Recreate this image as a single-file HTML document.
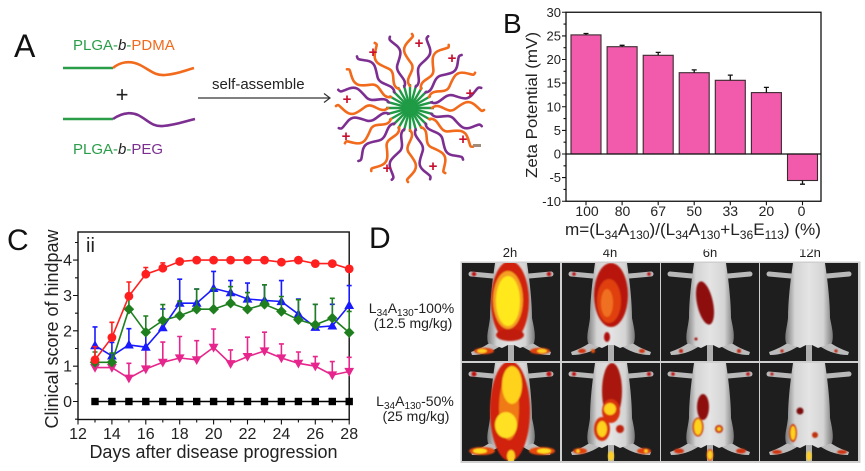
<!DOCTYPE html>
<html>
<head>
<meta charset="utf-8">
<style>
html,body{margin:0;padding:0;background:#fff;}
body{width:865px;height:471px;overflow:hidden;}
svg{display:block;font-family:"Liberation Sans",Arial,sans-serif;}
</style>
</head>
<body>
<svg width="865" height="471" viewBox="0 0 865 471" xmlns="http://www.w3.org/2000/svg">
<defs>
  <path id="chA" d="M22,0 C30,-7 37,7 45,1 S58,-9 65,-3 S71,4 74,2" fill="none"/>
  <path id="chB" d="M22,0 C29,6 37,-6 45,-1 S57,8 64,3 S71,-3 74,-1" fill="none"/>
  <g id="c1"><path d="M0,0H24" stroke="#1f9a45" stroke-width="2.4"/><use href="#chA" stroke="#f26a1b" stroke-width="2.6" stroke-linecap="round"/></g>
  <g id="c2"><path d="M0,0H24" stroke="#1f9a45" stroke-width="2.4"/><use href="#chB" stroke="#7d2f91" stroke-width="2.6" stroke-linecap="round"/></g>
  <path id="tu" d="M0,-5.2 L4.9,3.6 L-4.9,3.6Z"/>
  <path id="td" d="M0,5.2 L4.9,-3.6 L-4.9,-3.6Z"/>
  <path id="dm" d="M0,-5.3 L5.3,0 L0,5.3 L-5.3,0Z"/>
  <rect id="sq" x="-3.7" y="-3.7" width="7.4" height="7.4"/>
  <linearGradient id="mg" x1="0" y1="0" x2="1" y2="0">
    <stop offset="0" stop-color="#7a7a7a"/>
    <stop offset="0.2" stop-color="#d4d4d4"/>
    <stop offset="0.5" stop-color="#e4e4e4"/>
    <stop offset="0.8" stop-color="#d4d4d4"/>
    <stop offset="1" stop-color="#7a7a7a"/>
  </linearGradient>
  <filter id="bl" x="-20%" y="-20%" width="140%" height="140%"><feGaussianBlur stdDeviation="0.8"/></filter>
  <g id="mouse">
    <rect x="0" y="0" width="98" height="98" fill="#1e1e1e"/>
    <path d="M31,13 L9,11" stroke="#b9b9b9" stroke-width="5" stroke-linecap="round"/>
    <path d="M67,13 L89,11" stroke="#b9b9b9" stroke-width="5" stroke-linecap="round"/>
    <path d="M30,78 C24,83 17,86 9,89 L10,92 C20,92 29,89 37,84 Z" fill="#bcbcbc"/>
    <path d="M68,78 C74,83 81,86 89,89 L88,92 C78,92 69,89 61,84 Z" fill="#bcbcbc"/>
    <rect x="46" y="78" width="6" height="20" fill="#b0b0b0"/>
    <path d="M33,0 L65,0 C68,20 70,40 70,55 C72,65 74,72 72,80 L58,85 L52,82 L46,82 L40,85 L26,80 C24,72 27,65 28,55 C28,40 30,20 33,0 Z" fill="url(#mg)"/>
  </g>
</defs>

<!-- ============ PANEL A ============ -->
<text x="14" y="57" font-size="32" fill="#111">A</text>
<text x="73" y="50" font-size="15"><tspan fill="#2a9d48">PLGA-</tspan><tspan fill="#222" font-style="italic">b</tspan><tspan fill="#2a9d48">-</tspan><tspan fill="#f26a1b">PDMA</tspan></text>
<path d="M63,68 H113" stroke="#2a9d48" stroke-width="2.6" fill="none"/>
<path d="M113,68 C120,62 130,60 140,65 C150,70 155,76 165,75 C178,74 186,70 194,68" stroke="#f26a1b" stroke-width="2.6" fill="none"/>
<text x="122" y="102" font-size="22" fill="#222" text-anchor="middle">+</text>
<path d="M63,119 H113" stroke="#2a9d48" stroke-width="2.6" fill="none"/>
<path d="M113,119 C120,114 128,111 138,115 C148,120 152,127 163,126 C176,125 186,121 195,119" stroke="#7d2f91" stroke-width="2.6" fill="none"/>
<text x="73" y="154" font-size="15"><tspan fill="#2a9d48">PLGA-</tspan><tspan fill="#222" font-style="italic">b</tspan><tspan fill="#2a9d48">-</tspan><tspan fill="#7d2f91">PEG</tspan></text>
<text x="212" y="89" font-size="15" fill="#222">self-assemble</text>
<path d="M198,98 H330 M324,93.5 L330,98 L324,102.5" stroke="#333" stroke-width="1.2" fill="none"/>

<!-- micelle -->
<g transform="translate(410,108)">
  <use href="#c1" transform="rotate(0)"/>
  <use href="#c2" transform="rotate(15)"/>
  <use href="#c1" transform="rotate(30)"/>
  <use href="#c2" transform="rotate(45)"/>
  <use href="#c1" transform="rotate(60)"/>
  <use href="#c2" transform="rotate(75)"/>
  <use href="#c1" transform="rotate(90)"/>
  <use href="#c2" transform="rotate(105)"/>
  <use href="#c1" transform="rotate(120)"/>
  <use href="#c2" transform="rotate(135)"/>
  <use href="#c1" transform="rotate(150)"/>
  <use href="#c2" transform="rotate(165)"/>
  <use href="#c1" transform="rotate(180)"/>
  <use href="#c2" transform="rotate(195)"/>
  <use href="#c1" transform="rotate(210)"/>
  <use href="#c2" transform="rotate(225)"/>
  <use href="#c1" transform="rotate(240)"/>
  <use href="#c2" transform="rotate(255)"/>
  <use href="#c1" transform="rotate(270)"/>
  <use href="#c2" transform="rotate(285)"/>
  <use href="#c1" transform="rotate(300)"/>
  <use href="#c2" transform="rotate(315)"/>
  <use href="#c1" transform="rotate(330)"/>
  <use href="#c2" transform="rotate(345)"/>
  <circle cx="0" cy="0" r="7" fill="#1f9a45"/>
</g>
<g font-size="15" font-weight="bold" fill="#c8102e" text-anchor="middle">
  <text x="373" y="57">+</text>
  <text x="419" y="48">+</text>
  <text x="452" y="63">+</text>
  <text x="470" y="98">+</text>
  <text x="463" y="144">+</text>
  <text x="433" y="171">+</text>
  <text x="387" y="173">+</text>
  <text x="346" y="141">+</text>
  <text x="347" y="104">+</text>
</g>
<rect x="473" y="144" width="8" height="3" fill="#a08c78"/>

<!-- ============ PANEL B ============ -->
<text x="503" y="33" font-size="28" fill="#111">B</text>
<text x="537" y="178" font-size="16" fill="#222" transform="rotate(-90 537 178)" textLength="146" lengthAdjust="spacingAndGlyphs">Zeta Potential (mV)</text>
<!-- bars -->
<g fill="#f25aac" stroke="#3a2a30" stroke-width="1.1">
  <rect x="571" y="34.9" width="30" height="119.1"/>
  <rect x="607.1" y="46.7" width="30" height="107.3"/>
  <rect x="643.2" y="55.3" width="30" height="98.7"/>
  <rect x="679.2" y="72.7" width="30" height="81.3"/>
  <rect x="715.3" y="80.3" width="30" height="73.7"/>
  <rect x="751.4" y="92.6" width="30" height="61.4"/>
  <rect x="787.5" y="154" width="30" height="26.5"/>
</g>
<g stroke="#111" stroke-width="1.3" fill="none">
  <path d="M586,34.9V33.5M583.5,33.5H588.5"/>
  <path d="M622.1,46.7V45.3M619.6,45.3H624.6"/>
  <path d="M658.2,55.3V52.4M655.7,52.4H660.7"/>
  <path d="M694.2,72.7V69.9M691.7,69.9H696.7"/>
  <path d="M730.3,80.3V75.1M727.8,75.1H732.8"/>
  <path d="M766.4,92.6V87.4M763.9,87.4H768.9"/>
  <path d="M802.5,180.5V184.2M800,184.2H805"/>
</g>
<!-- frame -->
<rect x="566" y="12.25" width="255" height="189" fill="none" stroke="#111" stroke-width="1.3"/>
<path d="M566,154H821" stroke="#111" stroke-width="1.2"/>
<g stroke="#111" stroke-width="1.1">
  <path d="M566,12.25h-4M566,35.9h-4M566,59.5h-4M566,83.1h-4M566,106.75h-4M566,130.4h-4M566,154h-4M566,177.6h-4M566,201.25h-4"/>
  <path d="M566,24.1h-2.5M566,47.7h-2.5M566,71.3h-2.5M566,94.9h-2.5M566,118.6h-2.5M566,142.2h-2.5M566,165.8h-2.5M566,189.4h-2.5"/>
  <path d="M586,201.25v4M622.1,201.25v4M658.2,201.25v4M694.2,201.25v4M730.3,201.25v4M766.4,201.25v4M802.5,201.25v4"/>
</g>
<g font-size="13" fill="#222" text-anchor="end">
  <text x="561" y="16.8">30</text>
  <text x="561" y="40.4">25</text>
  <text x="561" y="64">20</text>
  <text x="561" y="87.6">15</text>
  <text x="561" y="111.3">10</text>
  <text x="561" y="134.9">5</text>
  <text x="561" y="158.5">0</text>
  <text x="561" y="182.1">-5</text>
  <text x="561" y="205.8">-10</text>
</g>
<g font-size="14" fill="#222" text-anchor="middle">
  <text x="587" y="216">100</text>
  <text x="622.5" y="216">80</text>
  <text x="658.2" y="216">67</text>
  <text x="694.2" y="216">50</text>
  <text x="730.3" y="216">33</text>
  <text x="766.4" y="216">20</text>
  <text x="801.5" y="216">0</text>
</g>
<text x="565" y="235" font-size="17" fill="#222" textLength="256" lengthAdjust="spacingAndGlyphs">m=(L<tspan font-size="12" dy="4">34</tspan><tspan dy="-4">A</tspan><tspan font-size="12" dy="4">130</tspan><tspan dy="-4">)/(L</tspan><tspan font-size="12" dy="4">34</tspan><tspan dy="-4">A</tspan><tspan font-size="12" dy="4">130</tspan><tspan dy="-4">+L</tspan><tspan font-size="12" dy="4">36</tspan><tspan dy="-4">E</tspan><tspan font-size="12" dy="4">113</tspan><tspan dy="-4">) (%)</tspan></text>

<!-- ============ PANEL C ============ -->
<text x="7" y="250" font-size="30" fill="#111">C</text>
<text x="58" y="329" font-size="18" fill="#222" text-anchor="middle" transform="rotate(-90 58 329)">Clinical score of hindpaw</text>
<text x="86" y="252" font-size="20" fill="#222">ii</text>
<rect x="78" y="232" width="271.2" height="187.5" fill="none" stroke="#111" stroke-width="1.4"/>
<g stroke="#111" stroke-width="1.1">
  <path d="M78,401.5h-5M78,366.2h-5M78,330.8h-5M78,295.5h-5M78,260.1h-5"/>
  <path d="M78,419.2h-3M78,383.8h-3M78,348.5h-3M78,313.2h-3M78,277.8h-3M78,242.5h-3"/>
  <path d="M78,419.5v5M111.9,419.5v5M145.8,419.5v5M179.7,419.5v5M213.6,419.5v5M247.5,419.5v5M281.4,419.5v5M315.3,419.5v5M349.2,419.5v5"/>
  <path d="M95,419.5v3M128.9,419.5v3M162.8,419.5v3M196.7,419.5v3M230.6,419.5v3M264.5,419.5v3M298.4,419.5v3M332.3,419.5v3"/>
</g>
<g font-size="16" fill="#222" text-anchor="end">
  <text x="72" y="407">0</text>
  <text x="72" y="371.7">1</text>
  <text x="72" y="336.3">2</text>
  <text x="72" y="301">3</text>
  <text x="72" y="265.6">4</text>
</g>
<g font-size="16" fill="#222" text-anchor="middle">
  <text x="78" y="439">12</text>
  <text x="111.9" y="439">14</text>
  <text x="145.8" y="439">16</text>
  <text x="179.7" y="439">18</text>
  <text x="213.6" y="439">20</text>
  <text x="247.5" y="439">22</text>
  <text x="281.4" y="439">24</text>
  <text x="315.3" y="439">26</text>
  <text x="349.2" y="439">28</text>
</g>
<text x="213.5" y="458" font-size="18" fill="#222" text-anchor="middle">Days after disease progression</text>

<!-- magenta -->
<g stroke="#e6268c" stroke-width="1.6" fill="none">
  <polyline points="95,367.6 111.9,367.6 128.9,378.2 145.8,369 162.8,362.3 179.7,358 196.7,359.8 213.6,347.4 230.6,363.7 247.5,356.6 264.5,351 281.4,358 298.4,363.3 315.3,366.2 332.3,375 349.2,371.5"/>
  <path d="M95,367.6V357.3M92.5,357.3H97.5 M111.9,367.6V354.8M109.4,354.8H114.4 M128.9,378.2V363.3M126.4,363.3H131.4 M145.8,369V349.2M143.3,349.2H148.3 M162.8,362.3V342.1M160.3,342.1H165.3 M179.7,358V336.5M177.2,336.5H182.2 M196.7,359.8V340.7M194.2,340.7H199.2 M213.6,347.4V329M211.1,329H216.1 M230.6,363.7V349.9M228.1,349.9H233.1 M247.5,356.6V337.2M245,337.2H250 M264.5,351V332.2M262,332.2H267 M281.4,358V343.9M278.9,343.9H283.9 M298.4,363.3V352M295.9,352H300.9 M315.3,366.2V356.6M312.8,356.6H317.8 M332.3,375V361.6M329.8,361.6H334.8 M349.2,371.5V357.3M346.7,357.3H351.7"/>
</g>
<g fill="#e6268c">
  <use href="#td" x="95" y="367.6"/><use href="#td" x="111.9" y="367.6"/><use href="#td" x="128.9" y="378.2"/><use href="#td" x="145.8" y="369"/>
  <use href="#td" x="162.8" y="362.3"/><use href="#td" x="179.7" y="358"/><use href="#td" x="196.7" y="359.8"/><use href="#td" x="213.6" y="347.4"/>
  <use href="#td" x="230.6" y="363.7"/><use href="#td" x="247.5" y="356.6"/><use href="#td" x="264.5" y="351"/><use href="#td" x="281.4" y="358"/>
  <use href="#td" x="298.4" y="363.3"/><use href="#td" x="315.3" y="366.2"/><use href="#td" x="332.3" y="375"/><use href="#td" x="349.2" y="371.5"/>
</g>

<!-- blue -->
<g stroke="#1a1aff" stroke-width="1.6" fill="none">
  <polyline points="95,345.6 111.9,355.9 128.9,344.9 145.8,347.1 162.8,327.6 179.7,303.2 196.7,303.2 213.6,288.4 230.6,292.6 247.5,299 264.5,300.4 281.4,301.5 298.4,314.2 315.3,327.3 332.3,325.9 349.2,305.4"/>
  <path d="M95,345.6V326.9M92.5,326.9H97.5 M111.9,355.9V342.5M109.4,342.5H114.4 M128.9,344.9V328.7M126.4,328.7H131.4 M145.8,347.1V330.8M143.3,330.8H148.3 M162.8,327.6V308.9M160.3,308.9H165.3 M179.7,303.2V279.2M177.2,279.2H182.2 M196.7,303.2V289.1M194.2,289.1H199.2 M213.6,288.4V271.4M211.1,271.4H216.1 M230.6,292.6V280.6M228.1,280.6H233.1 M247.5,299V283.1M245,283.1H250 M264.5,300.4V284.8M262,284.8H267 M281.4,301.5V280.6M278.9,280.6H283.9 M298.4,314.2V299M295.9,299H300.9 M315.3,327.3V304.3M312.8,304.3H317.8 M332.3,325.9V304.3M329.8,304.3H334.8 M349.2,305.4V285.6M346.7,285.6H351.7"/>
</g>
<g fill="#1a1aff">
  <use href="#tu" x="95" y="345.6"/><use href="#tu" x="111.9" y="355.9"/><use href="#tu" x="128.9" y="344.9"/><use href="#tu" x="145.8" y="347.1"/>
  <use href="#tu" x="162.8" y="327.6"/><use href="#tu" x="179.7" y="303.2"/><use href="#tu" x="196.7" y="303.2"/><use href="#tu" x="213.6" y="288.4"/>
  <use href="#tu" x="230.6" y="292.6"/><use href="#tu" x="247.5" y="299"/><use href="#tu" x="264.5" y="300.4"/><use href="#tu" x="281.4" y="301.5"/>
  <use href="#tu" x="298.4" y="314.2"/><use href="#tu" x="315.3" y="327.3"/><use href="#tu" x="332.3" y="325.9"/><use href="#tu" x="349.2" y="305.4"/>
</g>

<!-- green -->
<g stroke="#1f7f1f" stroke-width="1.6" fill="none">
  <polyline points="95,362.3 111.9,362.3 128.9,309.2 145.8,332.2 162.8,320.5 179.7,315.6 196.7,309.2 213.6,309.2 230.6,303.2 247.5,309.2 264.5,304.3 281.4,311.4 298.4,319.8 315.3,324.8 332.3,318.1 349.2,332.6"/>
  <path d="M95,362.3V352M92.5,352H97.5 M111.9,362.3V353.1M109.4,353.1H114.4 M128.9,309.2V299M126.4,299H131.4 M145.8,332.2V316M143.3,316H148.3 M162.8,320.5V304.6M160.3,304.6H165.3 M179.7,315.6V301.1M177.2,301.1H182.2 M196.7,309.2V289.1M194.2,289.1H199.2 M213.6,309.2V288.4M211.1,288.4H216.1 M230.6,303.2V286.6M228.1,286.6H233.1 M247.5,309.2V292.6M245,292.6H250 M264.5,304.3V284.8M262,284.8H267 M281.4,311.4V296.5M278.9,296.5H283.9 M298.4,319.8V299.7M295.9,299.7H300.9 M315.3,324.8V304.3M312.8,304.3H317.8 M332.3,318.1V298.3M329.8,298.3H334.8 M349.2,332.6V311.4M346.7,311.4H351.7"/>
</g>
<g fill="#1f7f1f">
  <use href="#dm" x="95" y="362.3"/><use href="#dm" x="111.9" y="362.3"/><use href="#dm" x="128.9" y="309.2"/><use href="#dm" x="145.8" y="332.2"/>
  <use href="#dm" x="162.8" y="320.5"/><use href="#dm" x="179.7" y="315.6"/><use href="#dm" x="196.7" y="309.2"/><use href="#dm" x="213.6" y="309.2"/>
  <use href="#dm" x="230.6" y="303.2"/><use href="#dm" x="247.5" y="309.2"/><use href="#dm" x="264.5" y="304.3"/><use href="#dm" x="281.4" y="311.4"/>
  <use href="#dm" x="298.4" y="319.8"/><use href="#dm" x="315.3" y="324.8"/><use href="#dm" x="332.3" y="318.1"/><use href="#dm" x="349.2" y="332.6"/>
</g>

<!-- red -->
<g stroke="#ff1f1f" stroke-width="1.6" fill="none">
  <polyline points="95,359.8 111.9,337.5 128.9,296.2 145.8,274.2 162.8,268.2 179.7,261.5 196.7,260.1 213.6,260.1 230.6,260.1 247.5,260.1 264.5,260.1 281.4,262.2 298.4,260.1 315.3,263.6 332.3,263.6 349.2,268.9"/>
  <path d="M95,359.8V346.7M92.5,346.7H97.5 M111.9,337.5V322.3M109.4,322.3H114.4 M128.9,296.2V282M126.4,282H131.4 M145.8,274.2V267.5M143.3,267.5H148.3 M162.8,268.2V262.9M160.3,262.9H165.3"/>
</g>
<g fill="#ff1f1f">
  <circle cx="95" cy="359.8" r="4.4"/><circle cx="111.9" cy="337.5" r="4.4"/><circle cx="128.9" cy="296.2" r="4.4"/><circle cx="145.8" cy="274.2" r="4.4"/>
  <circle cx="162.8" cy="268.2" r="4.4"/><circle cx="179.7" cy="261.5" r="4.4"/><circle cx="196.7" cy="260.1" r="4.4"/><circle cx="213.6" cy="260.1" r="4.4"/>
  <circle cx="230.6" cy="260.1" r="4.4"/><circle cx="247.5" cy="260.1" r="4.4"/><circle cx="264.5" cy="260.1" r="4.4"/><circle cx="281.4" cy="262.2" r="4.4"/>
  <circle cx="298.4" cy="260.1" r="4.4"/><circle cx="315.3" cy="263.6" r="4.4"/><circle cx="332.3" cy="263.6" r="4.4"/><circle cx="349.2" cy="268.9" r="4.4"/>
</g>

<!-- black -->
<path d="M95,401.5H349.2" stroke="#000" stroke-width="1.6"/>
<g fill="#000">
  <use href="#sq" x="95" y="401.5"/><use href="#sq" x="111.9" y="401.5"/><use href="#sq" x="128.9" y="401.5"/><use href="#sq" x="145.8" y="401.5"/>
  <use href="#sq" x="162.8" y="401.5"/><use href="#sq" x="179.7" y="401.5"/><use href="#sq" x="196.7" y="401.5"/><use href="#sq" x="213.6" y="401.5"/>
  <use href="#sq" x="230.6" y="401.5"/><use href="#sq" x="247.5" y="401.5"/><use href="#sq" x="264.5" y="401.5"/><use href="#sq" x="281.4" y="401.5"/>
  <use href="#sq" x="298.4" y="401.5"/><use href="#sq" x="315.3" y="401.5"/><use href="#sq" x="332.3" y="401.5"/><use href="#sq" x="349.2" y="401.5"/>
</g>

<!-- ============ PANEL D ============ -->
<text x="369" y="248" font-size="30" fill="#111">D</text>
<g font-size="13" fill="#222" text-anchor="middle">
  <text x="510" y="257">2h</text>
  <text x="610" y="257">4h</text>
  <text x="710" y="257">6h</text>
  <text x="810" y="257">12h</text>
</g>
<rect x="560" y="239" width="300" height="10.5" fill="#fff"/>
<g font-size="14" fill="#222" text-anchor="middle">
  <text x="411.5" y="313">L<tspan font-size="10" dy="3">34</tspan><tspan dy="-3">A</tspan><tspan font-size="10" dy="3">130</tspan><tspan dy="-3">-100%</tspan></text>
  <text x="413" y="328">(12.5 mg/kg)</text>
  <text x="415" y="406">L<tspan font-size="10" dy="3">34</tspan><tspan dy="-3">A</tspan><tspan font-size="10" dy="3">130</tspan><tspan dy="-3">-50%</tspan></text>
  <text x="416" y="421">(25 mg/kg)</text>
</g>

<rect x="460.5" y="261.5" width="400" height="201.5" fill="#cfcfcf"/>

<!-- row 1 -->
<svg x="462" y="263" width="98" height="98" viewBox="0 0 98 98">
  <use href="#mouse"/>
  <g filter="url(#bl)">
    <ellipse cx="48" cy="38" rx="19" ry="40" fill="#d0200a"/>
    <ellipse cx="46" cy="37" rx="15" ry="29" fill="#f5a020"/>
    <ellipse cx="46" cy="38" rx="12" ry="25" fill="#ffe81a"/>
    <ellipse cx="48" cy="72" rx="14" ry="6" fill="#c01a0a"/>
    <ellipse cx="22" cy="88" rx="10" ry="3.2" fill="#e04010"/>
    <ellipse cx="20" cy="88" rx="5" ry="2" fill="#ffd020"/>
    <ellipse cx="78" cy="88" rx="10" ry="3.2" fill="#e04010"/>
    <ellipse cx="80" cy="88" rx="5" ry="2" fill="#ffd020"/>
    <circle cx="12" cy="11" r="2.2" fill="#c01010"/>
    <circle cx="87" cy="11" r="2.2" fill="#c01010"/>
  </g>
</svg>
<svg x="562" y="263" width="98" height="98" viewBox="0 0 98 98">
  <use href="#mouse"/>
  <g filter="url(#bl)">
    <ellipse cx="49" cy="32" rx="17" ry="32" fill="#b81808"/>
    <ellipse cx="47" cy="38" rx="12" ry="22" fill="#e0400e"/>
    <ellipse cx="45" cy="40" rx="6" ry="14" fill="#f07020"/>
    <ellipse cx="45" cy="74" rx="3" ry="5" fill="#b01010"/>
    <ellipse cx="20" cy="88" rx="4" ry="2.2" fill="#d03010"/>
    <circle cx="31" cy="88" r="2" fill="#e05010"/>
    <ellipse cx="80" cy="88" rx="3" ry="2" fill="#d03010"/>
    <circle cx="12" cy="11" r="1.8" fill="#c01010"/>
    <circle cx="87" cy="11" r="1.8" fill="#c01010"/>
  </g>
</svg>
<svg x="661" y="263" width="98" height="98" viewBox="0 0 98 98">
  <use href="#mouse"/>
  <g filter="url(#bl)">
    <ellipse cx="44" cy="40" rx="8" ry="22" fill="#8e1010" transform="rotate(-12 44 40)"/>
    <circle cx="20" cy="88" r="2" fill="#c02010"/>
    <circle cx="78" cy="88" r="2" fill="#c02010"/>
    <circle cx="35" cy="76" r="1.5" fill="#a01010"/>
  </g>
</svg>
<svg x="760" y="263" width="98" height="98" viewBox="0 0 98 98">
  <use href="#mouse"/>
  <g filter="url(#bl)">
    <circle cx="22" cy="88" r="1.6" fill="#c02010"/>
    <circle cx="76" cy="88" r="1.6" fill="#c02010"/>
  </g>
</svg>

<!-- row 2 -->
<svg x="462" y="363" width="98" height="98" viewBox="0 0 98 98">
  <use href="#mouse"/>
  <g filter="url(#bl)">
    <ellipse cx="48" cy="48" rx="20" ry="50" fill="#d0200a"/>
    <ellipse cx="47" cy="45" rx="10" ry="32" fill="#f07a18"/>
    <ellipse cx="50" cy="22" rx="10" ry="19" fill="#ffd21a"/>
    <ellipse cx="44" cy="62" rx="11" ry="13" fill="#ffe020"/>
    <ellipse cx="20" cy="88" rx="13" ry="4" fill="#e84a10"/>
    <ellipse cx="18" cy="88" rx="7" ry="2.5" fill="#ffe020"/>
    <ellipse cx="80" cy="88" rx="13" ry="4" fill="#e84a10"/>
    <ellipse cx="82" cy="88" rx="7" ry="2.5" fill="#ffe020"/>
    <ellipse cx="49" cy="93" rx="4" ry="6" fill="#ffd020"/>
    <circle cx="12" cy="11" r="2.5" fill="#c01010"/>
    <circle cx="87" cy="11" r="2.5" fill="#c01010"/>
  </g>
</svg>
<svg x="562" y="363" width="98" height="98" viewBox="0 0 98 98">
  <use href="#mouse"/>
  <g filter="url(#bl)">
    <ellipse cx="50" cy="28" rx="10" ry="28" fill="#a81208"/>
    <ellipse cx="49" cy="48" rx="9" ry="12" fill="#d83010"/>
    <circle cx="48" cy="46" r="6" fill="#ffd21a"/>
    <ellipse cx="40" cy="66" rx="8" ry="12" fill="#d83010"/>
    <ellipse cx="40" cy="66" rx="5" ry="8" fill="#ffd21a"/>
    <circle cx="58" cy="66" r="4" fill="#c02010"/>
    <ellipse cx="18" cy="88" rx="7" ry="3" fill="#e04010"/>
    <ellipse cx="82" cy="88" rx="7" ry="3" fill="#e04010"/>
    <circle cx="16" cy="88" r="1.8" fill="#ffd020"/>
    <circle cx="84" cy="88" r="1.8" fill="#ffd020"/>
    <ellipse cx="49" cy="93" rx="3" ry="5" fill="#ffd020"/>
    <circle cx="12" cy="11" r="2" fill="#c01010"/>
    <circle cx="87" cy="11" r="2" fill="#c01010"/>
  </g>
</svg>
<svg x="661" y="363" width="98" height="98" viewBox="0 0 98 98">
  <use href="#mouse"/>
  <g filter="url(#bl)">
    <ellipse cx="42" cy="44" rx="6" ry="13" fill="#8e1010"/>
    <ellipse cx="37" cy="64" rx="5.5" ry="9.5" fill="#d03010"/>
    <ellipse cx="37" cy="64" rx="4" ry="8" fill="#ffd21a"/>
    <circle cx="58" cy="66" r="4" fill="#c83010"/>
    <circle cx="58" cy="66" r="2" fill="#ffd020"/>
    <ellipse cx="18" cy="88" rx="5" ry="2.5" fill="#d03010"/>
    <ellipse cx="80" cy="88" rx="5" ry="2.5" fill="#d03010"/>
    <ellipse cx="49" cy="92" rx="3.5" ry="6" fill="#e04010"/>
    <ellipse cx="49" cy="92" rx="2.5" ry="4.5" fill="#ffd020"/>
    <circle cx="12" cy="11" r="1.8" fill="#c01010"/>
    <circle cx="87" cy="11" r="1.8" fill="#c01010"/>
  </g>
</svg>
<svg x="760" y="363" width="98" height="98" viewBox="0 0 98 98">
  <use href="#mouse"/>
  <g filter="url(#bl)">
    <circle cx="40" cy="48" r="3.5" fill="#7a0e0e"/>
    <ellipse cx="33" cy="70" rx="4" ry="9" fill="#d03010"/>
    <ellipse cx="33" cy="70" rx="2.5" ry="7" fill="#ffd21a"/>
    <circle cx="55" cy="72" r="3" fill="#c03010"/>
    <ellipse cx="17" cy="89" rx="5" ry="2" fill="#d03010"/>
    <ellipse cx="82" cy="89" rx="5" ry="2" fill="#d03010"/>
    <ellipse cx="49" cy="93" rx="2.5" ry="5" fill="#ffd020"/>
    <circle cx="12" cy="11" r="1.5" fill="#c01010"/>
  </g>
</svg>
</svg>
</body>
</html>
